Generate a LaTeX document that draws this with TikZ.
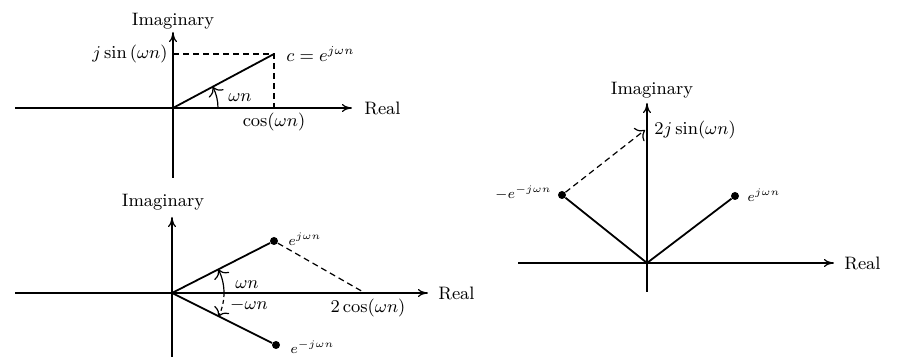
\documentclass[tikz,border=0pt]{standalone}
\usepackage{amsmath}
\usetikzlibrary{arrows.meta}

\begin{document}
\begin{tikzpicture}[x=0.5pt,y=0.5pt,
  axis/.style={line width=0.6pt,-{To[length=5pt,width=4pt]}},
  vec/.style={line width=0.9pt},
  guide/.style={line width=0.6pt,dashed,dash pattern=on 3pt off 2pt},
  dot/.style={circle,fill=black,inner sep=0pt,minimum size=4pt},
  lbl/.style={font=\small,inner sep=1pt},
  tiny/.style={font=\scriptsize,inner sep=1pt}]
\useasboundingbox (0,0) rectangle (901,357);

% top left: c = e^{j wn}
\coordinate (o1) at (173,249);
\coordinate (l1) at (15,249);
\coordinate (r1) at (352,249);
\coordinate (b1) at (173,179);
\coordinate (t1) at (173,325);
\coordinate (c1) at (274,303);
\coordinate (s1) at (173,303);
\coordinate (x1) at (274,249);
\draw[axis] (l1) -- (r1);
\draw[axis] (b1) -- (t1);
\draw[vec] (o1) -- (c1);
\draw[guide] (s1) -- (c1) -- (x1);
\draw[line width=0.6pt,-{To[length=4pt]}] ([shift={(0:45)}]o1) arc (0:28:45);
\node[lbl,anchor=south] (im1) at (t1) {Imaginary};
\node[lbl,anchor=west] (re1) at (362,249) {Real};
\node[lbl,anchor=east] (js1) at (170,303) {$j\,\mathrm{sin}\,(\omega n)$};
\node[lbl,anchor=west] (ce1) at (284,303) {$c=e^{j\omega n}$};
\node[lbl,anchor=north] (co1) at (274,246) {$\cos(\omega n)$};
\node[lbl] (wn1) at (240,259) {$\omega n$};

% bottom left: e^{j wn} and e^{-j wn}
\coordinate (o2) at (172,64);
\coordinate (l2) at (15,64);
\coordinate (r2) at (428,64);
\coordinate (b2) at (172,0);
\coordinate (t2) at (172,140);
\coordinate (q2) at (365,64);
\node[dot] (p2) at (274,116) {};
\node[dot] (n2) at (276,12) {};
\draw[axis] (l2) -- (r2);
\draw[axis] (b2) -- (t2);
\draw[vec] (o2) -- (p2);
\draw[vec] (o2) -- (n2);
\draw[guide] (p2) -- (q2);
\draw[line width=0.6pt,-{To[length=4pt]}] ([shift={(0:52)}]o2) arc (0:27:52);
\draw[line width=0.6pt,dashed,dash pattern=on 2pt off 1.5pt,-{To[length=4pt]}] ([shift={(0:52)}]o2) arc (0:-27:52);
\node[lbl,anchor=south] (im2) at (163,144) {Imaginary};
\node[lbl,anchor=west] (re2) at (436,64) {Real};
\node[tiny,anchor=west] (pe2) at (286,118) {$e^{j\omega n}$};
\node[tiny,anchor=west] (ne2) at (288,10) {$e^{-j\omega n}$};
\node[lbl,anchor=north] (co2) at (368,60) {$2\cos(\omega n)$};
\node[lbl] (wn2) at (247,72) {$\omega n$};
\node[lbl] (mw2) at (249,52) {$-\omega n$};

% right: e^{j wn} - e^{-j wn}
\coordinate (o3) at (647,94);
\coordinate (l3) at (518,94);
\coordinate (r3) at (834,94);
\coordinate (b3) at (647,65);
\coordinate (t3) at (647,254);
\coordinate (s3) at (645,227);
\node[dot] (p3) at (735,161) {};
\node[dot] (n3) at (562,162) {};
\draw[axis] (l3) -- (r3);
\draw[axis] (b3) -- (t3);
\draw[vec] (o3) -- (p3);
\draw[vec] (o3) -- (n3);
\draw[guide,-{To[length=4pt]}] (n3) -- (s3);
\node[lbl,anchor=south] (im3) at (652,256) {Imaginary};
\node[lbl,anchor=west] (re3) at (842,94) {Real};
\node[lbl,anchor=west] (sj3) at (652,227) {$2j\,\mathrm{sin}(\omega n)$};
\node[tiny,anchor=west] (pe3) at (745,162) {$e^{j\omega n}$};
\node[tiny,anchor=east] (ne3) at (554,164) {$-e^{-j\omega n}$};
\end{tikzpicture}
\end{document}
